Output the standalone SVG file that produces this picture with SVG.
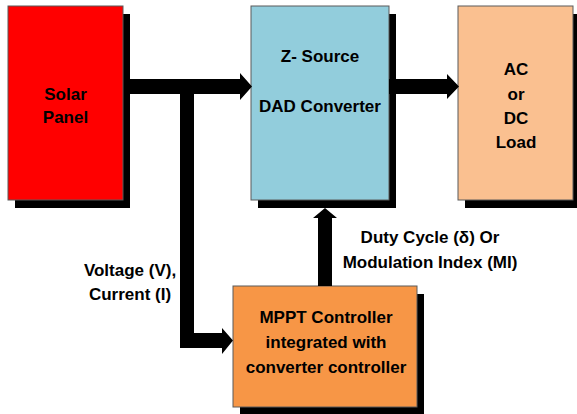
<svg xmlns="http://www.w3.org/2000/svg" width="577" height="414" viewBox="0 0 577 414">
<style>
.box{stroke:#5a5a5a;stroke-width:1}
.shadow{fill:#000}
.t{font-family:"Liberation Sans",Arial,sans-serif;font-weight:bold;font-size:17px;fill:#000;text-anchor:middle}
.arrow{fill:#000}
</style>
<rect width="577" height="414" fill="#fff"/>
<g id="solar">
<rect class="shadow" x="15" y="14" width="115" height="194"/>
<rect class="box" x="8" y="6" width="115" height="194" fill="#ff0000"/>
<text class="t" x="65.5" y="100">Solar</text>
<text class="t" x="65.5" y="123">Panel</text>
</g>
<g id="zsource">
<rect class="shadow" x="258" y="14" width="138" height="194"/>
<rect class="box" x="251" y="6" width="138" height="194" fill="#92cddc"/>
<text class="t" x="320" y="62">Z- Source</text>
<text class="t" x="320" y="112">DAD Converter</text>
</g>
<g id="load">
<rect class="shadow" x="465" y="14" width="115" height="194"/>
<rect class="box" x="458" y="6" width="115" height="194" fill="#fac090"/>
<text class="t" x="516" y="75">AC</text>
<text class="t" x="516" y="100">or</text>
<text class="t" x="516" y="124">DC</text>
<text class="t" x="516" y="148">Load</text>
</g>
<g id="mppt">
<rect class="shadow" x="240" y="294" width="184" height="121"/>
<rect class="box" x="233" y="286" width="184" height="121" fill="#f79646"/>
<text class="t" x="326" y="323">MPPT Controller</text>
<text class="t" x="326" y="348">integrated with</text>
<text class="t" x="326" y="373">converter controller</text>
</g>
<g id="connectors">
<polygon class="arrow" points="130,79 240,79 240,73 252,86.5 240,100 240,94 130,94"/>
<polygon class="arrow" points="180,94 194,94 194,333 222,333 222,328 233,340.5 222,354 222,348 180,348"/>
<polygon class="arrow" points="389,79 447,79 447,74 459,86.5 447,99 447,94 389,94"/>
<polygon class="arrow" points="318,286 318,218 313,218 325,208 337,218 332,218 332,286"/>
<text class="t" x="130" y="276">Voltage (V),</text>
<text class="t" x="130" y="300">Current (I)</text>
<text class="t" x="430" y="243">Duty Cycle (δ) Or</text>
<text class="t" x="430" y="268">Modulation Index (MI)</text>
</g>
</svg>
